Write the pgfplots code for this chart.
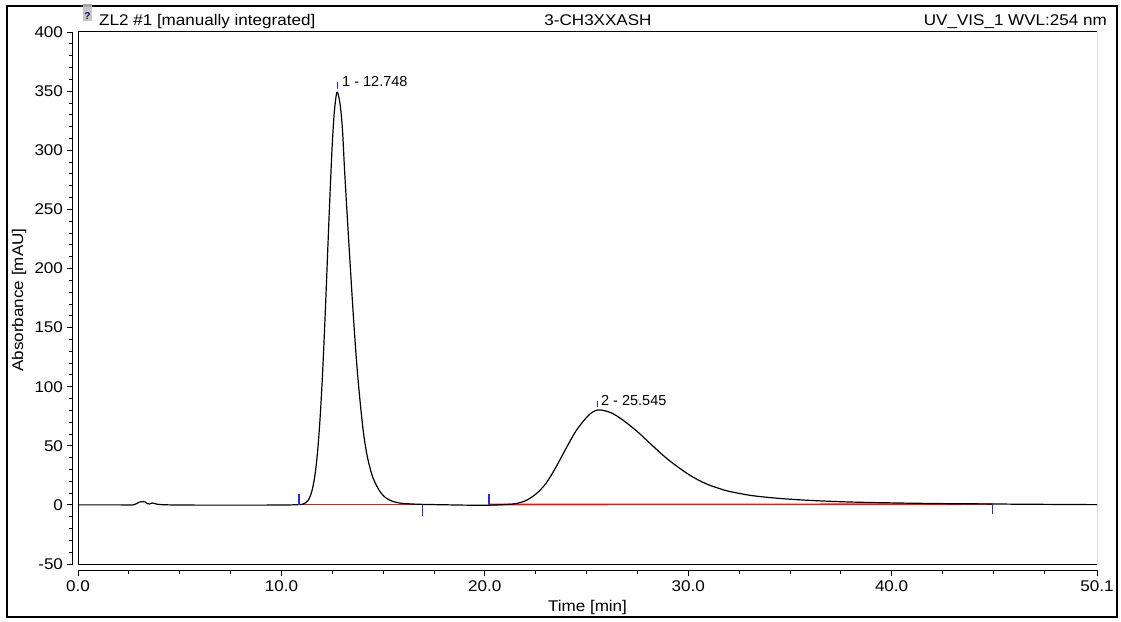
\documentclass[border=0pt]{standalone}
\usepackage{fontspec}
\setmainfont{Liberation Sans}
\newfontfamily\widefamily[FakeStretch=1.1]{Liberation Sans}
\newcommand\wide{\widefamily\fontsize{15.5}{18}\selectfont}
\newcommand\pk{\fontsize{14.5}{17}\selectfont}
\usepackage{pgfplots}
\usepackage{pgfplotstable}
\pgfplotsset{compat=1.18}
\definecolor{mkblue}{RGB}{40,40,240}
\definecolor{blred}{RGB}{235,20,20}

\pgfplotstableread{
t a
0 0
1 0
2 0
2.7 0
2.85 0.8
3.0 2.3
3.15 2.8
3.3 2.5
3.42 1.0
3.52 0.8
3.65 1.6
3.8 1.0
4.0 0.3
4.5 0
5 -0.1
6 -0.2
7 -0.2
8 -0.2
9 -0.2
10 -0.1
10.5 0
10.8 0.2
11.0 0.45
11.1 0.94
11.2 1.9
11.3 3.6
11.4 6.7
11.5 11.8
11.6 19.8
11.7 31.9
11.8 49.2
11.9 72.8
12.0 103
12.1 139.6
12.2 181
12.3 225
12.4 267
12.5 305
12.6 332
12.7 347
12.75 349
12.8 347
12.9 337
13.0 318
13.1 285
13.2 255
13.3 226
13.4 198
13.5 170
13.6 144
13.7 120
13.8 100
13.9 82
14.0 66
14.1 53
14.2 43
14.3 35
14.4 28.5
14.5 23
14.6 19
14.8 12.5
15.0 8
15.2 5.2
15.4 3.4
15.6 2.3
15.8 1.6
16.0 1.2
16.5 0.7
17.0 0.4
18.0 0.1
19.0 -0.2
20.0 -0.3
20.5 -0.1
21.0 0.3
21.5 1
22.0 3.5
22.5 9
23.0 18
23.5 32
24.0 48
24.5 63
25.0 74
25.3 78.5
25.55 80.3
25.8 80
26.2 78
26.6 74
27.0 69
27.5 62
28.0 54
28.5 46
29.0 38.5
29.5 32
30.0 26
30.5 21
31.0 17
31.5 14
32.0 11.5
33.0 8.2
34.0 6.2
35.0 4.8
36.0 3.8
37.0 3.0
38.0 2.4
39.0 2.0
40.0 1.7
41.0 1.4
42.0 1.2
43.0 1.0
44.0 0.9
45.0 0.8
46.0 0.6
47.0 0.5
48.0 0.4
49.0 0.3
50.1 0.2
}\chrom

\begin{document}
\begin{tikzpicture}[x=1pt,y=1pt]
\useasboundingbox (0,0) rectangle (1121,621);
\draw[line width=2pt] (7,4) rectangle (1117,615);
% title row
\fill[gray!45] (83,600) rectangle (92,617);
\fill[gray!70] (83,614) rectangle (92,617);
\node[font=\fontsize{10}{12}\selectfont\bfseries, text=gray!20!blue!50!black, inner sep=0] at (87.5,605) {?};
\node[font=\wide, anchor=base west, inner sep=0] at (99,595) {ZL2 \#1 [manually integrated]};
\node[font=\wide, anchor=base, inner sep=0] at (598,595) {3-CH3XXASH};
\node[font=\wide, anchor=base east, inner sep=0] at (1107,595) {UV\_VIS\_1 WVL:254 nm};
\begin{axis}[
  at={(78pt,57pt)}, anchor=south west,
  scale only axis, width=1019pt, height=532pt,
  xmin=0, xmax=50.1, ymin=-50, ymax=400,
  axis lines*=left,
  axis x line shift=6pt, axis y line shift=5.5pt,
  axis line style={line width=1pt},
  tick align=outside,
  major tick length=6pt, minor tick length=4pt,
  every tick/.style={black, line width=0.8pt},
  xtick={0,10,20,30,40,50.1},
  xticklabels={0.0,10.0,20.0,30.0,40.0,50.1},
  minor xtick={2.5,5,7.5,12.5,15,17.5,22.5,25,27.5,32.5,35,37.5,42.5,45,47.5},
  ytick={-50,0,50,100,150,200,250,300,350,400},
  yticklabels={-50,0,50,100,150,200,250,300,350,400},
  minor y tick num=4,
  tick label style={font=\wide},
  xticklabel style={yshift=-1pt},
]
\draw[line width=1pt] (rel axis cs:0,0) rectangle (rel axis cs:1,1);
\addplot[blred, line width=1.6pt] coordinates {(10.87,0.3) (16.95,0.3)};
\addplot[blred, line width=1.6pt] coordinates {(20.21,0.3) (44.95,0.6)};
\addplot[black, line width=1.2pt, smooth] table[x=t, y=a] {\chrom};
\addplot[mkblue, line width=1.3pt] coordinates {(10.87,0) (10.87,9.5)};
\addplot[mkblue, line width=1.3pt] coordinates {(16.95,0) (16.95,-9)};
\addplot[mkblue, line width=1.3pt] coordinates {(20.21,0) (20.21,9.5)};
\addplot[mkblue, line width=1.3pt] coordinates {(44.95,0.6) (44.95,-8)};
\addplot[mkblue, line width=1.3pt] coordinates {(12.75,352) (12.75,358)};
\addplot[mkblue, line width=1.3pt] coordinates {(25.53,83) (25.53,88)};
\node[font=\pk, anchor=west, inner sep=0] at (axis cs:12.98,357.7) {1 - 12.748};
\node[font=\pk, anchor=west, inner sep=0] at (axis cs:25.71,88.2) {2 - 25.545};
\end{axis}
\node[font=\wide] at (587.5,14) {Time [min]};
\node[font=\wide, rotate=90] at (19,321) {Absorbance [mAU]};
\end{tikzpicture}
\end{document}
